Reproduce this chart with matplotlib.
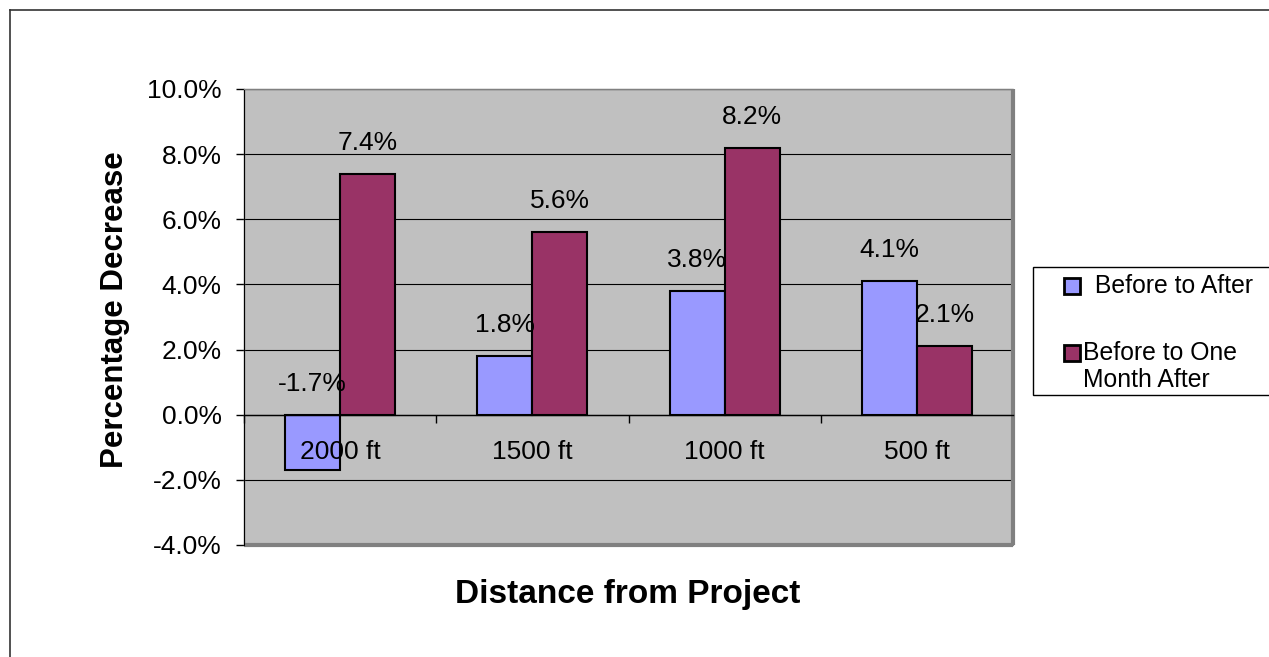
import numpy as np
import matplotlib
matplotlib.use('Agg')
import matplotlib.pyplot as plt
from matplotlib.lines import Line2D
from matplotlib.patches import Rectangle

plt.rcParams['font.family'] = ['Liberation Sans', 'DejaVu Sans']

distances = ['2000 ft', '1500 ft', '1000 ft', '500 ft']
before_to_after = [-1.7, 1.8, 3.8, 4.1]
before_to_month_after = [7.4, 5.6, 8.2, 2.1]
series_names = [' Before to After', 'Before to One\nMonth After']
colors = ['#9999FF', '#993366']
yticks = [-4, -2, 0, 2, 4, 6, 8, 10]

W, H = 1269, 657
fig = plt.figure(figsize=(W / 100, H / 100), dpi=100)

def px(x0, y0):
    # pixel position (from top-left) -> figure fraction
    return x0 / W, 1 - y0 / H

# outer chart frame (runs off the right/bottom edge)
fig.add_artist(Line2D([10 / W, 1], [1 - 10 / H, 1 - 10 / H], color='#333333', lw=1.2,
                      transform=fig.transFigure))
fig.add_artist(Line2D([10 / W, 10 / W], [0, 1 - 10 / H], color='#333333', lw=1.2,
                      transform=fig.transFigure))

ax = fig.add_axes([244 / W, 1 - 545 / H, 769 / W, 456 / H])
ax.set_facecolor('#C0C0C0')

x = np.arange(len(distances))
w = 0.286
b1 = ax.bar(x - w / 2, before_to_after, w, color=colors[0], edgecolor='black', lw=1.5, zorder=3)
b2 = ax.bar(x + w / 2, before_to_month_after, w, color=colors[1], edgecolor='black', lw=1.5, zorder=3)

# value labels above each bar
for bars, vals in [(b1, before_to_after), (b2, before_to_month_after)]:
    for bar, v in zip(bars, vals):
        ax.annotate('%.1f%%' % v, (bar.get_x() + bar.get_width() / 2, max(v, 0)),
                    xytext=(0, 22.3), textcoords='offset points', ha='center', va='center',
                    fontsize=19, zorder=5)

# category names sit just under the zero line, on top of the bars
for i, name in enumerate(distances):
    ax.annotate(name, (i, 0), xytext=(0, -26.6), textcoords='offset points',
                ha='center', va='center', fontsize=19, zorder=6)

ax.set_xlim(-0.5, len(distances) - 0.5)
ax.set_ylim(-4, 10)
ax.set_yticks(yticks)
ax.set_yticklabels(['%.1f%%' % t for t in yticks], fontsize=19)
ax.yaxis.grid(True, color='black', lw=0.8, zorder=1)
ax.tick_params(axis='y', direction='out', length=6, width=1, pad=10)

# category axis drawn at zero
ax.spines['bottom'].set_position(('data', 0))
ax.spines['bottom'].set_color('black')
ax.spines['bottom'].set_linewidth(1)
ax.spines['bottom'].set_zorder(4)
ax.set_xticks(np.arange(len(distances) + 1) - 0.5)
ax.set_xticklabels([])
ax.tick_params(axis='x', direction='out', length=6, width=1)

ax.spines['left'].set_color('black')
ax.spines['top'].set_color('#808080')
ax.spines['right'].set_visible(False)

# plot area border with shadow on right and bottom
ax.add_patch(Rectangle((0, 0), 1, 1, transform=ax.transAxes, fill=False,
                       edgecolor='#808080', lw=1, clip_on=False, zorder=2))
ax.add_line(Line2D([1, 1], [0, 1], transform=ax.transAxes, color='#808080', lw=3,
                   clip_on=False, solid_capstyle='butt'))
ax.add_line(Line2D([0, 1], [0, 0], transform=ax.transAxes, color='#808080', lw=3,
                   clip_on=False, solid_capstyle='butt'))

fig.text(*px(115, 310), 'Percentage Decrease', rotation=90, ha='center', va='center',
         fontsize=22.5, fontweight='bold')
fig.text(*px(628, 595), 'Distance from Project', ha='center', va='center',
         fontsize=24, fontweight='bold')

# legend: box runs off the right edge, keys line up with the first line of text
fig.add_artist(Rectangle(px(1033, 395), 260 / W, 128 / H, transform=fig.transFigure,
                         facecolor='white', edgecolor='black', lw=1))
key_y = [286, 353]
text_pos = [(1088, 293), (1083, 360)]
for col, name, ky, (tx, ty) in zip(colors, series_names, key_y, text_pos):
    fig.add_artist(Rectangle(px(1064, ky + 8), 16 / W, 16 / H, transform=fig.transFigure,
                             facecolor=col, edgecolor='black', lw=2))
    for j, line in enumerate(name.split('\n')):
        fig.text(*px(tx, ty + 27 * j), line, ha='left', va='baseline', fontsize=17.8)

fig.savefig('out.png', dpi=100)
